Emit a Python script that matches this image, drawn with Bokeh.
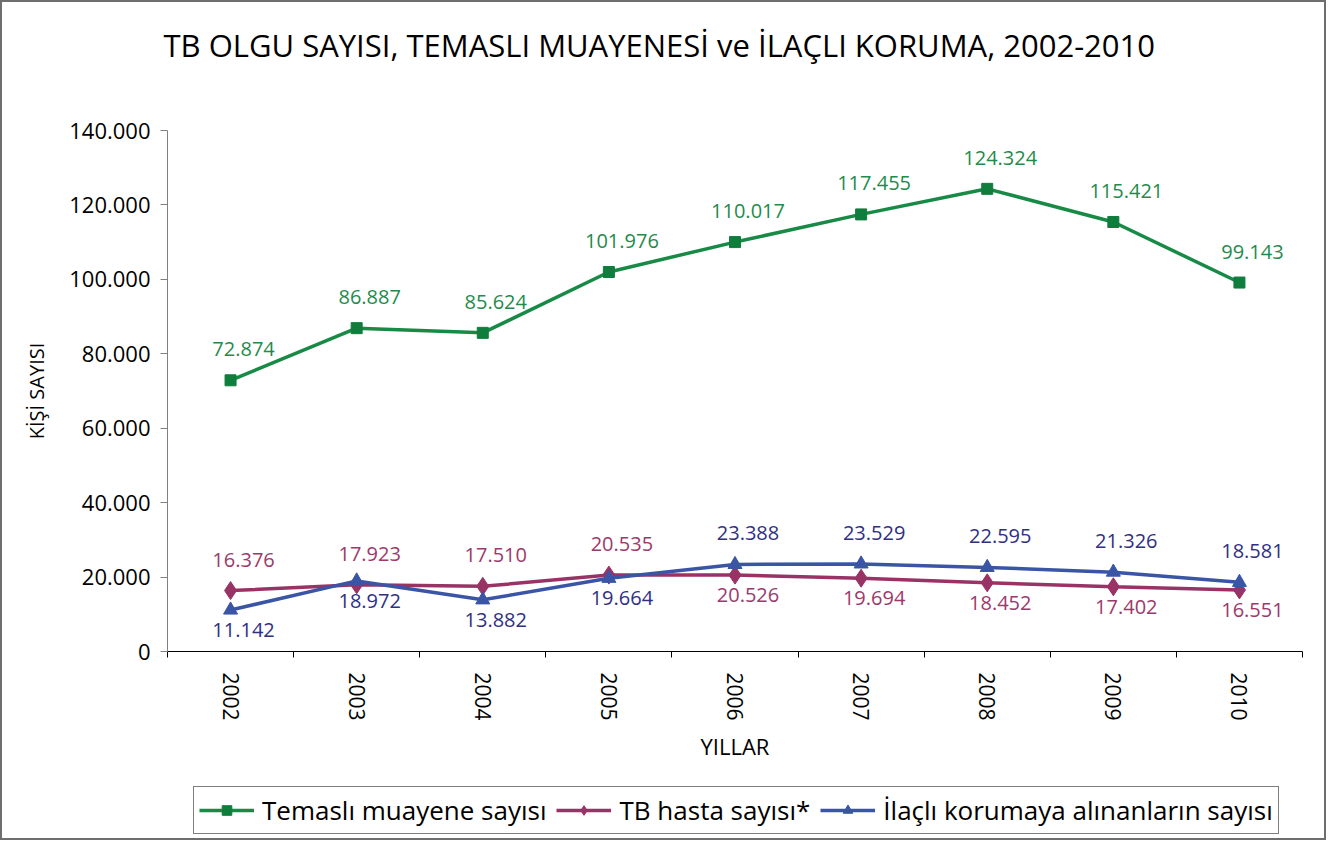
from bokeh.plotting import figure
from bokeh.layouts import column
from bokeh.models import ColumnDataSource, Range1d, FixedTicker, Legend, LegendItem, Title
from bokeh.embed import file_html
from bokeh.resources import INLINE
from bokeh.core.properties import value

# ---------------- data ----------------
years = [2002, 2003, 2004, 2005, 2006, 2007, 2008, 2009, 2010]
temasli = [72874, 86887, 85624, 101976, 110017, 117455, 124324, 115421, 99143]
tb_hasta = [16376, 17923, 17510, 20535, 20526, 19694, 18452, 17402, 16551]
ilacli = [11142, 18972, 13882, 19664, 23388, 23529, 22595, 21326, 18581]
y_ticks = [0, 20000, 40000, 60000, 80000, 100000, 120000, 140000]
series_names = ["Temaslı muayene sayısı", "TB hasta sayısı*",
                "İlaçlı korumaya alınanların sayısı"]
title_text = "TB OLGU SAYISI, TEMASLI MUAYENESİ ve İLAÇLI KORUMA, 2002-2010"
x_title = "YILLAR"
y_title = "KİŞİ SAYISI"

# label placement (style)
temasli_pos = ["above"] * 9
tb_pos = ["above"] * 4 + ["below"] * 5
ilacli_pos = ["below"] * 4 + ["above"] * 5

FONT = "Open Sans"


def fmt(v):
    return f"{v:,}".replace(",", ".")


p = figure(width=1322, height=778, output_backend="svg", toolbar_location=None,
           title=None,
           x_range=Range1d(2001.5, 2010.5), y_range=Range1d(0, 140000),
           min_border_left=165, min_border_right=22, min_border_top=128,
           min_border_bottom=129)
p.outline_line_color = None
p.xgrid.visible = False
p.ygrid.visible = False
p.background_fill_color = "white"
p.border_fill_color = "white"

# spacer between frame and title, then the title itself
p.add_layout(Title(text=" ", text_font_size="1px", standoff=62), "above")
p.add_layout(Title(text=title_text, align="left", offset=-4, standoff=0,
                   text_font=FONT, text_font_size="31px",
                   text_font_style="normal", text_color="black"), "above")

# x axis
xa = p.xaxis[0]
xa.ticker = FixedTicker(ticks=years, minor_ticks=[2001.5 + i for i in range(10)])
xa.major_tick_line_color = None
xa.major_tick_out = 0
xa.major_tick_in = 0
xa.minor_tick_line_color = "black"
xa.minor_tick_out = 6
xa.minor_tick_in = 0
xa.axis_line_color = "black"
xa.major_label_orientation = "vertical"
xa.major_label_standoff = 15
xa.major_label_text_font = FONT
xa.major_label_text_font_size = "21px"
xa.major_label_text_color = "black"
xa.axis_label = x_title
xa.axis_label_standoff = 7
xa.axis_label_text_font = FONT
xa.axis_label_text_font_size = "22px"
xa.axis_label_text_font_style = "normal"
xa.axis_label_text_color = "black"

# y axis
ya = p.yaxis[0]
ya.ticker = FixedTicker(ticks=y_ticks)
ya.major_label_overrides = {t: fmt(t) for t in y_ticks}
ya.minor_tick_line_color = None
ya.major_tick_out = 7
ya.major_tick_in = 0
ya.major_tick_line_color = "#808080"
ya.axis_line_color = "#808080"
ya.major_label_standoff = 10
ya.major_label_text_font = FONT
ya.major_label_text_font_size = "22px"
ya.major_label_text_color = "black"
ya.axis_label = y_title
ya.axis_label_standoff = 16
ya.axis_label_text_font = FONT
ya.axis_label_text_font_size = "20px"
ya.axis_label_text_font_style = "normal"
ya.axis_label_text_color = "black"

series = [
    (temasli, temasli_pos, "#178a46", "#0f7d3c", "#1f8b4c", "square", 11),
    (tb_hasta, tb_pos, "#993366", "#993366", "#9b3a6b", "diamond", 18),
    (ilacli, ilacli_pos, "#3a55a6", "#3a55a6", "#2f3083", "triangle", 14),
]

# legend strip below the chart (its frame is aligned with the chart frame)
leg = figure(width=1322, height=58, output_backend="svg", toolbar_location=None,
             title=None, x_axis_type=None, y_axis_type=None, min_border=0,
             x_range=Range1d(0, 1), y_range=Range1d(0, 1))
leg.outline_line_color = None
leg.background_fill_color = "white"
leg.border_fill_color = "white"

items = []
for (vals, pos, lc, mc, tc, marker, size), name in zip(series, series_names):
    src = ColumnDataSource(dict(
        x=years, y=vals, label=[fmt(v) for v in vals],
        yo=[-31 if s == "above" else 20 for s in pos],
    ))
    p.line("x", "y", source=src, line_color=lc, line_width=3.5)
    p.scatter("x", "y", source=src, marker=marker, size=size,
              fill_color=mc, line_color=mc)
    p.text("x", "y", text="label", source=src, x_offset=13, y_offset="yo",
           text_align="center", text_baseline="middle",
           text_font=value(FONT), text_font_size="20px", text_color=tc)
    # legend proxies: same data, lie outside this strip's ranges
    lsrc = ColumnDataSource(dict(x=years, y=vals))
    lr = leg.line("x", "y", source=lsrc, line_color=lc, line_width=3.5)
    sr = leg.scatter("x", "y", source=lsrc, marker=marker, size=size,
                     fill_color=mc, line_color=mc)
    items.append(LegendItem(label=name, renderers=[lr, sr]))

legend = Legend(items=items, orientation="horizontal", location=(26, 4),
                label_text_font=FONT, label_text_font_size="26px",
                label_text_color="black", glyph_width=55, glyph_height=24,
                label_standoff=8, spacing=10, padding=5, margin=0,
                border_line_color="black", border_line_width=1,
                background_fill_color="white", background_fill_alpha=1.0)
leg.add_layout(legend)

layout = column(p, leg, spacing=0)
layout.styles = {"border": "2px solid #6e6e6e", "background-color": "white"}

open("out.html", "w").write(file_html(layout, INLINE))
